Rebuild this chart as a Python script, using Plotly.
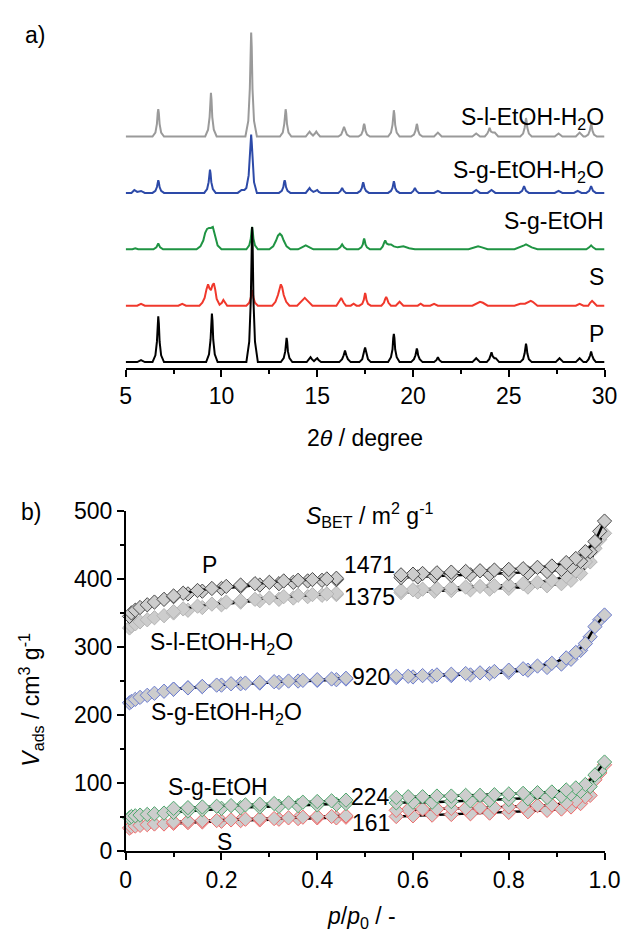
import plotly.graph_objects as go

# ---------------- (a) XRD patterns: [2theta, intensity] points ----------------
XRD_P = [[5,0],[5.6,0],[5.8,2],[6.0,0],
         [6.4,0],[6.55,7],[6.63,21],[6.67,40],[6.7,47],[6.73,40],[6.77,21],[6.85,7],[7.0,0],
         [9.2,0],[9.35,8],[9.43,23],[9.47,43],[9.5,50],[9.53,43],[9.57,23],[9.65,8],[9.8,0],
         [11.3,0],[11.45,21],[11.53,63],[11.57,118],[11.6,139],[11.63,118],[11.67,63],[11.75,21],[11.9,0],
         [13.1,0],[13.25,4],[13.33,11],[13.37,21],[13.4,25],[13.43,21],[13.47,11],[13.55,4],[13.7,0],
         [14.45,0],[14.58,3],[14.65,5],[14.72,3],[14.83,1],[14.93,3],[15.0,4],[15.07,2],[15.2,0],
         [16.15,0],[16.3,3],[16.38,7],[16.45,12],[16.52,7],[16.6,3],[16.75,0],
         [17.2,0],[17.35,3],[17.43,8],[17.47,13],[17.5,15],[17.53,13],[17.57,8],[17.65,3],[17.8,0],
         [18.7,0],[18.85,5],[18.93,13],[18.97,25],[19.0,29],[19.03,25],[19.07,13],[19.15,5],[19.3,0],
         [19.9,0],[20.05,3],[20.13,7],[20.17,12],[20.2,14],[20.23,12],[20.27,7],[20.35,3],[20.5,0],
         [21.1,0],[21.22,2],[21.3,5],[21.38,2],[21.5,0],[23.1,0],[23.3,4],[23.5,0],
         [23.85,0],[23.98,3],[24.05,7],[24.1,10],[24.16,6],[24.25,4],[24.32,4],[24.5,0],
         [25.6,0],[25.75,3],[25.83,9],[25.87,16],[25.9,19],[25.93,16],[25.97,9],[26.05,3],[26.2,0],
         [27.45,0],[27.65,4],[27.85,0],[28.5,0],[28.7,4],[28.9,0],
         [29.05,0],[29.17,3],[29.25,7],[29.3,11],[29.35,7],[29.43,3],[29.55,0],[30,0]]
XRD_S = [[5,0],[5.6,0],[5.8,2],[6.0,0],[7.75,0],[7.95,2],[8.15,0],
         [8.85,0],[9.0,3],[9.12,8],[9.22,17],[9.3,22],[9.37,18],[9.45,16],[9.53,21],[9.6,23],[9.67,17],[9.75,7],[9.9,1],
         [10.02,3],[10.1,6],[10.18,3],[10.3,0],
         [11.3,0],[11.45,3],[11.53,8],[11.57,14],[11.6,16],[11.63,14],[11.67,8],[11.75,3],[11.9,0],
         [12.65,0],[12.82,4],[12.95,11],[13.03,19],[13.1,22],[13.17,19],[13.25,11],[13.38,4],[13.55,0],
         [13.95,0],[14.12,3],[14.25,6],[14.35,8],[14.45,6],[14.58,3],[14.75,0],
         [16.0,0],[16.12,3],[16.2,6],[16.25,8],[16.3,6],[16.38,3],[16.5,0],[16.75,0],[16.9,2],[17.05,0],
         [17.2,0],[17.35,2],[17.43,6],[17.47,11],[17.5,13],[17.53,11],[17.57,6],[17.65,2],[17.8,0],
         [18.35,0],[18.48,3],[18.55,7],[18.6,9],[18.65,7],[18.72,3],[18.85,0],
         [19.1,0],[19.3,4],[19.5,0],[20.25,0],[20.4,2],[20.55,0],[20.9,0],[21.1,2],[21.3,0],
         [23.1,0],[23.35,3],[23.5,4],[23.65,3],[23.9,0],
         [25.3,0],[25.6,2],[25.85,2],[26.05,4],[26.15,5],[26.25,4],[26.5,0],
         [28.5,0],[28.7,2],[28.9,0],[29.15,0],[29.25,3],[29.35,5],[29.45,3],[29.6,0],[30,0]]
XRD_SG = [[5,0],[5.35,0],[5.5,1],[5.65,0],[6.45,0],[6.6,2],[6.7,6],[6.8,2],[6.95,0],
          [8.7,0],[8.9,3],[9.05,9],[9.15,17],[9.25,21],[9.35,22],[9.45,22],[9.55,23],[9.62,18],[9.7,10],[9.8,4],[10.0,0],
          [11.3,0],[11.45,4],[11.53,11],[11.57,19],[11.6,23],[11.63,19],[11.67,11],[11.75,4],[11.9,0],
          [12.5,0],[12.7,3],[12.85,9],[12.95,14],[13.05,16],[13.15,14],[13.25,9],[13.4,3],[13.6,0],
          [14.0,0],[14.2,2],[14.4,4],[14.6,2],[14.8,0],[16.05,0],[16.2,2],[16.3,5],[16.4,2],[16.55,0],
          [17.15,0],[17.3,2],[17.38,5],[17.42,9],[17.45,11],[17.48,9],[17.52,5],[17.6,2],[17.75,0],
          [18.3,0],[18.42,3],[18.5,7],[18.55,9],[18.62,6],[18.72,5],[18.85,5],[19.0,3],[19.2,2],[19.5,3],[19.8,1],[20.1,0],
          [22.9,0],[23.2,2],[23.4,3],[23.6,2],[23.9,0],
          [25.3,0],[25.6,2],[25.8,4],[25.9,5],[26.0,4],[26.2,2],[26.5,0],
          [29.05,0],[29.2,2],[29.3,4],[29.4,2],[29.55,0],[30,0]]
XRD_SGW = [[5,0],[5.3,0],[5.45,3],[5.6,1],[5.8,2],[6.0,0],
           [6.4,0],[6.55,2],[6.63,6],[6.67,11],[6.7,13],[6.73,11],[6.77,6],[6.85,2],[7.0,0],
           [9.1,0],[9.25,4],[9.33,11],[9.37,20],[9.4,24],[9.43,20],[9.47,11],[9.55,4],[9.7,0],
           [10.85,0],[11.05,3],[11.2,3],[11.3,5],[11.42,18],[11.48,35],[11.52,52],[11.55,60],[11.58,52],[11.62,35],[11.7,11],[11.85,0],
           [13.0,0],[13.15,2],[13.23,6],[13.27,11],[13.3,13],[13.33,11],[13.37,6],[13.45,2],[13.6,0],
           [14.4,0],[14.53,3],[14.6,5],[14.67,3],[14.8,1],[14.92,2],[15.0,3],[15.08,1],[15.2,0],
           [16.1,0],[16.22,2],[16.3,5],[16.38,2],[16.5,0],
           [17.1,0],[17.25,2],[17.33,5],[17.37,9],[17.4,11],[17.43,9],[17.47,5],[17.55,2],[17.7,0],
           [18.7,0],[18.85,2],[18.93,5],[18.97,10],[19.0,12],[19.03,10],[19.07,5],[19.15,2],[19.3,0],
           [19.9,0],[20.02,2],[20.1,5],[20.18,2],[20.3,0],[21.1,0],[21.3,2],[21.5,0],
           [23.1,0],[23.3,3],[23.5,0],[23.9,0],[24.1,3],[24.3,0],
           [25.55,0],[25.7,2],[25.8,7],[25.9,2],[26.05,0],
           [27.4,0],[27.6,2],[27.8,0],[28.4,0],[28.6,2],[28.8,0],
           [29.05,0],[29.2,2],[29.3,7],[29.4,2],[29.55,0],[30,0]]
XRD_SLW = [[5,0],
           [6.4,0],[6.55,4],[6.63,13],[6.67,24],[6.7,28],[6.73,24],[6.77,13],[6.85,4],[7.0,0],
           [9.15,0],[9.3,7],[9.38,20],[9.42,38],[9.45,45],[9.48,38],[9.52,20],[9.6,7],[9.75,0],
           [11.25,0],[11.4,16],[11.48,49],[11.52,92],[11.55,108],[11.58,92],[11.62,49],[11.7,16],[11.85,0],
           [13.05,0],[13.2,4],[13.28,13],[13.32,24],[13.35,28],[13.38,24],[13.42,13],[13.5,4],[13.65,0],
           [14.4,0],[14.53,3],[14.6,5],[14.67,3],[14.78,1],[14.88,3],[14.95,5],[15.02,3],[15.15,0],
           [16.1,0],[16.25,2],[16.33,6],[16.4,10],[16.47,6],[16.55,2],[16.7,0],
           [17.15,0],[17.3,2],[17.38,6],[17.42,11],[17.45,13],[17.48,11],[17.52,6],[17.6,2],[17.75,0],
           [18.7,0],[18.85,4],[18.93,12],[18.97,23],[19.0,27],[19.03,23],[19.07,12],[19.15,4],[19.3,0],
           [19.9,0],[20.05,2],[20.13,6],[20.17,11],[20.2,13],[20.23,11],[20.27,6],[20.35,2],[20.5,0],
           [21.1,0],[21.3,4],[21.5,0],[23.1,0],[23.3,3],[23.5,0],
           [23.75,0],[23.88,3],[23.95,6],[24.0,9],[24.07,5],[24.17,4],[24.27,4],[24.45,0],
           [25.6,0],[25.75,3],[25.83,9],[25.87,16],[25.9,19],[25.93,16],[25.97,9],[26.05,3],[26.2,0],
           [27.4,0],[27.6,3],[27.8,0],[28.5,0],[28.7,4],[28.9,0],
           [29.0,0],[29.15,2],[29.23,6],[29.27,11],[29.3,13],[29.33,11],[29.37,6],[29.45,2],[29.6,0],[30,0]]
XRD_NAMES = ["S-l-EtOH-H<sub>2</sub>O", "S-g-EtOH-H<sub>2</sub>O", "S-g-EtOH", "S", "P"]
XRD_OFFSETS = [238, 180, 122, 64, 6]
XRD_TICKS = [5, 10, 15, 20, 25, 30]

# ---------------- (b) N2 isotherms ----------------
# relative pressures (low-surface samples and the two high-surface samples P, S-l)
P_ADS = [0.008,0.012,0.02,0.03,0.045,0.06,0.08,0.1,0.13,0.16,0.2,0.24,0.28,0.32,0.36,0.4,0.44,0.46,
         0.565,0.6,0.64,0.68,0.72,0.76,0.8,0.84,0.88,0.91,0.93,0.95,0.97,0.99]
P_DES = [1.0,0.98,0.96,0.94,0.92,0.89,0.86,0.83,0.8,0.77,0.74,0.71,0.68,0.65,0.62,0.59,0.565,
         0.46,0.43,0.4,0.37,0.34,0.31,0.28,0.25,0.22,0.19,0.16,0.13,0.1]
P_ADS_HI = [0.008,0.012,0.02,0.03,0.045,0.06,0.08,0.1,0.13,0.16,0.2,0.24,0.28,0.32,0.35,0.38,0.41,0.44,
            0.575,0.61,0.645,0.68,0.72,0.76,0.8,0.84,0.88,0.91,0.93,0.95,0.97,0.99]
P_DES_HI = [1.0,0.98,0.96,0.94,0.92,0.89,0.86,0.83,0.8,0.77,0.74,0.71,0.68,0.65,0.62,0.6,0.575,
            0.44,0.42,0.39,0.36,0.33,0.3,0.27,0.24,0.21,0.18,0.15,0.12,0.1]
V_P_ADS = [345,350,354,358,362,366,370,374,378,382,386,389,391,393,395,397,398,399,
           402,403,404,405,406,407,408,409,411,414,418,426,440,470]
V_P_DES = [485,455,440,430,424,419,417,415,414,413,412,411,410,409,408,407,406,
           401,400,399,398,397,395,393,391,389,386,383,379,375]
V_SLW_ADS = [328,331,334,337,340,343,346,350,354,358,362,366,368,370,372,374,376,377,
             380,381,382,383,384,385,386,388,390,393,398,408,425,458]
V_SLW_DES = [467,445,425,412,404,398,395,393,391,390,389,388,387,386,385,384,383,
             379,378,377,376,374,372,370,368,366,363,360,356,352]
V_SGW_ADS = [218,220,223,226,229,232,235,238,240,242,244,246,247,248,250,251,252,253,
             255,256,257,258,259,261,263,266,270,275,282,295,315,340]
V_SGW_DES = [347,330,305,292,284,276,272,268,266,264,262,261,260,259,258,257,257,
             254,253,252,251,250,249,248,247,246,244,242,240,238]
V_SG_ADS = [49,51,52,53,54,55,56,57,59,61,63,64,65,66,67,68,69,70,
            71,72,72,73,74,75,76,77,79,81,84,88,95,118]
V_SG_DES = [131,112,98,93,90,87,86,85,84,83,82,82,81,81,80,80,79,
            75,74,73,72,71,70,69,68,67,66,65,64,63]
V_S_ADS = [34,36,37,38,39,40,40,41,42,43,44,45,46,47,48,49,49,50,
           51,52,53,54,55,56,57,58,60,62,65,70,82,115]
V_S_DES = [127,105,80,74,71,68,67,66,65,64,64,63,63,62,62,61,60,
           52,51,51,50,49,48,48,47,46,45,45,44,43]
SBET = ["1471", "1375", "920", "224", "161"]
SBET_POS = [(0.51, 420), (0.51, 374), (0.512, 256), (0.512, 79), (0.512, 42)]

W, H = 635, 942
FONT = "Liberation Sans, Arial, sans-serif"
FS = 23

def px(x):
    return x / W

def py(y):
    return 1 - y / H

fig = go.Figure()

# ---- XRD traces
xrd_sets = [XRD_SLW, XRD_SGW, XRD_SG, XRD_S, XRD_P]
xrd_colors = ["#9a9a9a", "#2d4aa8", "#1f9443", "#f0382c", "#000000"]
for pts, off, col in zip(xrd_sets, XRD_OFFSETS, xrd_colors):
    fig.add_trace(go.Scatter(x=[p[0] for p in pts], y=[p[1] + off for p in pts],
                             mode="lines", line=dict(color=col, width=2),
                             xaxis="x", yaxis="y", showlegend=False, hoverinfo="skip"))

# ---- isotherm traces
def split_gap(xs, ys):
    ox, oy = [], []
    for i, (a, b) in enumerate(zip(xs, ys)):
        if i > 0 and abs(a - xs[i - 1]) > 0.06:
            ox.append(None); oy.append(None)
        ox.append(a); oy.append(b)
    return ox, oy

iso = [
    (P_ADS, V_S_ADS, P_DES, V_S_DES, "#f06a6a"),
    (P_ADS, V_SG_ADS, P_DES, V_SG_DES, "#4fa86e"),
    (P_ADS, V_SGW_ADS, P_DES, V_SGW_DES, "#6b7cd0"),
    (P_ADS_HI, V_SLW_ADS, P_DES_HI, V_SLW_DES, "#b4b4b4"),
    (P_ADS_HI, V_P_ADS, P_DES_HI, V_P_DES, "#4a4a4a"),
]
for pa, vads, pd, vdes, col in iso:
    for xs, ys in ((pa, vads), (pd, vdes)):
        gx, gy = split_gap(xs, ys)
        fig.add_trace(go.Scatter(x=gx, y=gy, mode="lines+markers",
                                 line=dict(color="black", width=2.4),
                                 marker=dict(symbol="diamond", size=11, color="#cdcdcd",
                                             line=dict(color=col, width=1)),
                                 cliponaxis=False, connectgaps=False,
                                 xaxis="x2", yaxis="y2", showlegend=False, hoverinfo="skip"))

axis_common = dict(showline=True, linecolor="black", linewidth=1.5, showgrid=False, zeroline=False,
                   ticks="outside", ticklen=7, tickwidth=1.5, tickcolor="black",
                   tickfont=dict(family=FONT, size=FS, color="black"))

fig.update_layout(
    width=W, height=H, margin=dict(l=0, r=0, t=0, b=0),
    paper_bgcolor="white", plot_bgcolor="white",
    font=dict(family=FONT, size=FS, color="black"),
    xaxis=dict(domain=[px(124), px(620)], range=[5, 30], anchor="y",
               tickvals=XRD_TICKS, ticktext=[str(t) for t in XRD_TICKS],
               minor=dict(dtick=2.5, tick0=5, ticks="outside", ticklen=4, tickwidth=1.5, tickcolor="black"),
               **axis_common),
    yaxis=dict(domain=[py(365), py(20)], range=[0, 345], visible=False, anchor="x"),
    xaxis2=dict(domain=[px(124), px(620)], range=[0, 1.0], anchor="y2",
                tickvals=[0, 0.2, 0.4, 0.6, 0.8, 1.0], ticktext=["0", "0.2", "0.4", "0.6", "0.8", "1.0"],
                minor=dict(dtick=0.1, tick0=0, ticks="outside", ticklen=4, tickwidth=1.5, tickcolor="black"),
                **axis_common),
    yaxis2=dict(domain=[py(862), py(512)], range=[0, 500], anchor="x2",
                tickvals=[0, 100, 200, 300, 400, 500],
                minor=dict(dtick=50, tick0=0, ticks="outside", ticklen=4, tickwidth=1.5, tickcolor="black"),
                **axis_common),
)

ann = []
def add(text, x, y, xanchor="center", yanchor="middle", xref="paper", yref="paper", angle=0, size=FS):
    ann.append(dict(text=text, x=x, y=y, xref=xref, yref=yref, xanchor=xanchor, yanchor=yanchor,
                    showarrow=False, textangle=angle, font=dict(family=FONT, size=size, color="black")))

add("a)", px(30), py(23))
add("b)", px(26), py(513))
xrd_label_y = [108, 163, 214, 271, 330]
for name, yy in zip(XRD_NAMES, xrd_label_y):
    add(name, px(622), py(yy), xanchor="right")
add("2<i>θ</i> / degree", px(372), py(437))
add("<i>S</i><sub>BET</sub> / m<sup>2</sup> g<sup>-1</sup>", 0.511, 494, xref="x2", yref="y2")
add("P", 0.174, 420, xref="x2", yref="y2")
add("S-l-EtOH-H<sub>2</sub>O", 0.046, 305, xanchor="left", xref="x2", yref="y2")
add("S-g-EtOH-H<sub>2</sub>O", 0.048, 202, xanchor="left", xref="x2", yref="y2")
add("S-g-EtOH", 0.085, 94, xanchor="left", xref="x2", yref="y2")
add("S", 0.206, 14, xref="x2", yref="y2")
for t, (xx, yy) in zip(SBET, SBET_POS):
    add(t, xx, yy, xref="x2", yref="y2")
add("<i>p</i>/<i>p</i><sub>0</sub> / -", px(368), py(930))
add("<i>V</i><sub>ads</sub> / cm<sup>3</sup> g<sup>-1</sup>", px(25), py(706), angle=-90)
fig.update_layout(annotations=ann)

fig.write_html("out.html")
